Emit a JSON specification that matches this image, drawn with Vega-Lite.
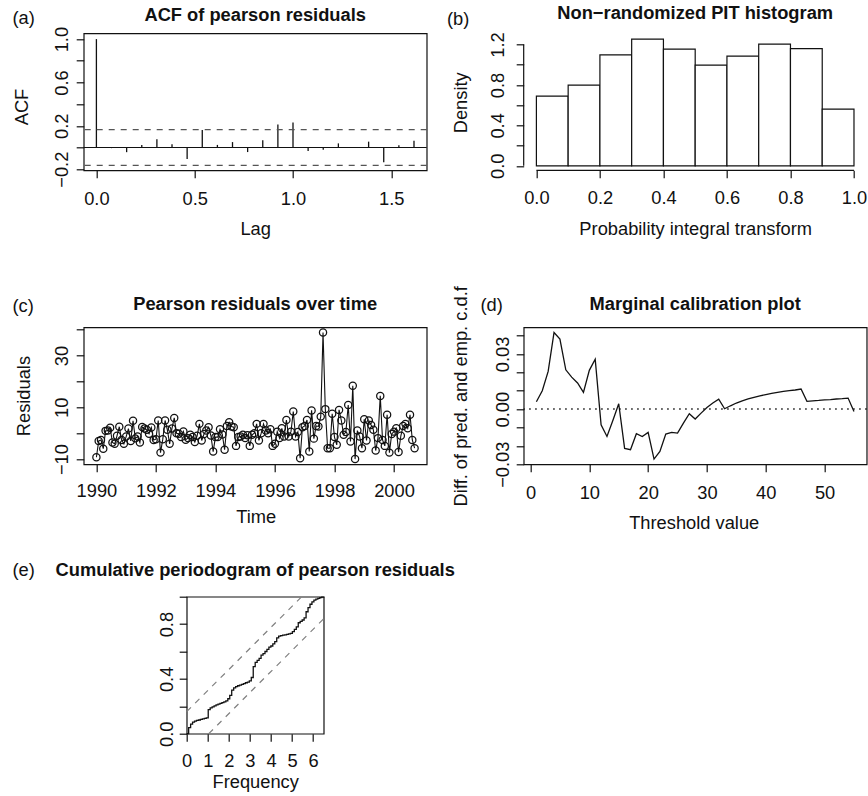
{
  "$schema": "https://vega.github.io/schema/vega-lite/v6.json",
  "background": "white",
  "padding": {"left": 11.7, "top": 3.3, "right": 0, "bottom": 0},
  "config": {
    "font": "Liberation Sans",
    "view": {"stroke": "#111", "strokeWidth": 1.2},
    "axis": {"domain": false, "grid": false, "ticks": true, "tickSize": 7.5, "tickWidth": 1.2, "tickColor": "#111",
      "labelFontSize": 18.3, "titleFontSize": 18.3, "titleFontWeight": "normal", "labelColor": "#111", "titleColor": "#111",
      "labelFlush": false, "labelOverlap": false, "labelBound": false},
    "text": {"color": "#111"}
  },
  "datasets": {
    "acf": [
      {"lag": 0, "acf": 1.0}, {"lag": 0.0769, "acf": -0.006}, {"lag": 0.1538, "acf": -0.043}, {"lag": 0.2308, "acf": 0.022},
      {"lag": 0.3077, "acf": 0.075}, {"lag": 0.3846, "acf": 0.03}, {"lag": 0.4615, "acf": -0.105}, {"lag": 0.5385, "acf": 0.162},
      {"lag": 0.6154, "acf": 0.024}, {"lag": 0.6923, "acf": 0.05}, {"lag": 0.7692, "acf": -0.042}, {"lag": 0.8462, "acf": 0.066},
      {"lag": 0.9231, "acf": 0.213}, {"lag": 1.0, "acf": 0.23}, {"lag": 1.0769, "acf": -0.032}, {"lag": 1.1538, "acf": -0.02},
      {"lag": 1.2308, "acf": 0.038}, {"lag": 1.3077, "acf": 0.003}, {"lag": 1.3846, "acf": 0.054}, {"lag": 1.4615, "acf": -0.136},
      {"lag": 1.5385, "acf": 0.02}, {"lag": 1.6154, "acf": 0.062}
    ],
    "pit": [
      {"lo": 0.0, "hi": 0.1, "density": 0.689}, {"lo": 0.1, "hi": 0.2, "density": 0.798}, {"lo": 0.2, "hi": 0.3, "density": 1.098},
      {"lo": 0.3, "hi": 0.4, "density": 1.253}, {"lo": 0.4, "hi": 0.5, "density": 1.154}, {"lo": 0.5, "hi": 0.6, "density": 0.996},
      {"lo": 0.6, "hi": 0.7, "density": 1.085}, {"lo": 0.7, "hi": 0.8, "density": 1.203}, {"lo": 0.8, "hi": 0.9, "density": 1.16},
      {"lo": 0.9, "hi": 1.0, "density": 0.56}
    ],
    "resid": [
      {"t": 1990, "r": -9.3}, {"t": 1990.0769, "r": -3.0}, {"t": 1990.1538, "r": -2.6}, {"t": 1990.2308, "r": -6.0}, {"t": 1990.3077, "r": 0.9},
      {"t": 1990.3846, "r": 1.0}, {"t": 1990.4615, "r": 2.1}, {"t": 1990.5385, "r": -3.6}, {"t": 1990.6154, "r": -4.1}, {"t": 1990.6923, "r": -1.0},
      {"t": 1990.7692, "r": 2.5}, {"t": 1990.8462, "r": -2.6}, {"t": 1990.9231, "r": -4.1},
      {"t": 1991, "r": -1.3}, {"t": 1991.0769, "r": 1.8}, {"t": 1991.1538, "r": -3.0}, {"t": 1991.2308, "r": 4.8}, {"t": 1991.3077, "r": -2.0},
      {"t": 1991.3846, "r": -1.3}, {"t": 1991.4615, "r": -3.6}, {"t": 1991.5385, "r": 2.4}, {"t": 1991.6154, "r": 1.8}, {"t": 1991.6923, "r": 1.3},
      {"t": 1991.7692, "r": -0.2}, {"t": 1991.8462, "r": 2.2}, {"t": 1991.9231, "r": -2.6},
      {"t": 1992, "r": -2.3}, {"t": 1992.0769, "r": 4.9}, {"t": 1992.1538, "r": -7.5}, {"t": 1992.2308, "r": -2.3}, {"t": 1992.3077, "r": 4.9},
      {"t": 1992.3846, "r": 1.3}, {"t": 1992.4615, "r": -4.1}, {"t": 1992.5385, "r": 1.8}, {"t": 1992.6154, "r": 5.9}, {"t": 1992.6923, "r": 0.0},
      {"t": 1992.7692, "r": -0.2}, {"t": 1992.8462, "r": -1.5}, {"t": 1992.9231, "r": 0.7},
      {"t": 1993, "r": -2.5}, {"t": 1993.0769, "r": -1.9}, {"t": 1993.1538, "r": -0.6}, {"t": 1993.2308, "r": -1.5}, {"t": 1993.3077, "r": -3.4},
      {"t": 1993.3846, "r": -1.0}, {"t": 1993.4615, "r": 3.6}, {"t": 1993.5385, "r": -2.8}, {"t": 1993.6154, "r": -0.3}, {"t": 1993.6923, "r": 1.0},
      {"t": 1993.7692, "r": 2.3}, {"t": 1993.8462, "r": -0.9}, {"t": 1993.9231, "r": -7.1},
      {"t": 1994, "r": -1.5}, {"t": 1994.0769, "r": -1.5}, {"t": 1994.1538, "r": 1.5}, {"t": 1994.2308, "r": -0.5}, {"t": 1994.3077, "r": -6.4},
      {"t": 1994.3846, "r": 2.8}, {"t": 1994.4615, "r": 4.2}, {"t": 1994.5385, "r": 2.6}, {"t": 1994.6154, "r": 2.3}, {"t": 1994.6923, "r": -4.9},
      {"t": 1994.7692, "r": -1.5}, {"t": 1994.8462, "r": -1.3}, {"t": 1994.9231, "r": -0.6},
      {"t": 1995, "r": -1.9}, {"t": 1995.0769, "r": -0.8}, {"t": 1995.1538, "r": -4.9}, {"t": 1995.2308, "r": -0.6}, {"t": 1995.3077, "r": 0.0},
      {"t": 1995.3846, "r": 3.6}, {"t": 1995.4615, "r": -2.8}, {"t": 1995.5385, "r": 0.0}, {"t": 1995.6154, "r": 3.6}, {"t": 1995.6923, "r": 1.0},
      {"t": 1995.7692, "r": 0.0}, {"t": 1995.8462, "r": 1.5}, {"t": 1995.9231, "r": -4.9},
      {"t": 1996, "r": -4.1}, {"t": 1996.0769, "r": 0.6}, {"t": 1996.1538, "r": -1.9}, {"t": 1996.2308, "r": 1.9}, {"t": 1996.3077, "r": -1.3},
      {"t": 1996.3846, "r": 5.1}, {"t": 1996.4615, "r": -1.3}, {"t": 1996.5385, "r": 0.6}, {"t": 1996.6154, "r": 8.4}, {"t": 1996.6923, "r": -1.3},
      {"t": 1996.7692, "r": 0.5}, {"t": 1996.8462, "r": -9.7}, {"t": 1996.9231, "r": 2.3},
      {"t": 1997, "r": 2.8}, {"t": 1997.0769, "r": 5.1}, {"t": 1997.1538, "r": -7.1}, {"t": 1997.2308, "r": 8.8}, {"t": 1997.3077, "r": -2.1},
      {"t": 1997.3846, "r": 2.8}, {"t": 1997.4615, "r": 2.6}, {"t": 1997.5385, "r": 6.4}, {"t": 1997.6154, "r": 38.9}, {"t": 1997.6923, "r": 9.3},
      {"t": 1997.7692, "r": -5.8}, {"t": 1997.8462, "r": -5.8}, {"t": 1997.9231, "r": 7.5},
      {"t": 1998, "r": -1.5}, {"t": 1998.0769, "r": -4.5}, {"t": 1998.1538, "r": 9.0}, {"t": 1998.2308, "r": 4.9}, {"t": 1998.3077, "r": -0.6},
      {"t": 1998.3846, "r": 0.5}, {"t": 1998.4615, "r": 10.9}, {"t": 1998.5385, "r": -3.2}, {"t": 1998.6154, "r": 18.3}, {"t": 1998.6923, "r": -10.0},
      {"t": 1998.7692, "r": 1.0}, {"t": 1998.8462, "r": -1.3}, {"t": 1998.9231, "r": -5.8},
      {"t": 1999, "r": 5.4}, {"t": 1999.0769, "r": -2.8}, {"t": 1999.1538, "r": 4.9}, {"t": 1999.2308, "r": 3.2}, {"t": 1999.3077, "r": 1.3},
      {"t": 1999.3846, "r": -6.7}, {"t": 1999.4615, "r": -1.9}, {"t": 1999.5385, "r": 14.4}, {"t": 1999.6154, "r": -2.6}, {"t": 1999.6923, "r": -4.9},
      {"t": 1999.7692, "r": 7.1}, {"t": 1999.8462, "r": -7.5}, {"t": 1999.9231, "r": -0.3},
      {"t": 2000, "r": 0.6}, {"t": 2000.0769, "r": 1.9}, {"t": 2000.1538, "r": -7.3}, {"t": 2000.2308, "r": -1.0}, {"t": 2000.3077, "r": 2.8},
      {"t": 2000.3846, "r": 3.6}, {"t": 2000.4615, "r": 1.9}, {"t": 2000.5385, "r": 7.1}, {"t": 2000.6154, "r": -2.6}, {"t": 2000.6923, "r": -5.8}
    ],
    "calib": [
      {"u": 1, "d": 0.004}, {"u": 2, "d": 0.01}, {"u": 3, "d": 0.0205}, {"u": 4, "d": 0.0417}, {"u": 5, "d": 0.0381},
      {"u": 6, "d": 0.0214}, {"u": 7, "d": 0.0174}, {"u": 8, "d": 0.0142}, {"u": 9, "d": 0.0091}, {"u": 10, "d": 0.0211},
      {"u": 11, "d": 0.0272}, {"u": 12, "d": -0.0085}, {"u": 13, "d": -0.0149}, {"u": 14, "d": -0.0062}, {"u": 15, "d": 0.0029},
      {"u": 16, "d": -0.0214}, {"u": 17, "d": -0.0221}, {"u": 18, "d": -0.0134}, {"u": 19, "d": -0.0149}, {"u": 20, "d": -0.0127},
      {"u": 21, "d": -0.0272}, {"u": 22, "d": -0.023}, {"u": 23, "d": -0.0136}, {"u": 24, "d": -0.0127}, {"u": 25, "d": -0.0131},
      {"u": 26, "d": -0.0076}, {"u": 27, "d": -0.0025}, {"u": 28, "d": -0.0054}, {"u": 29, "d": -0.0022}, {"u": 30, "d": 0.0009},
      {"u": 31, "d": 0.0033}, {"u": 32, "d": 0.0054}, {"u": 33, "d": 0.0002}, {"u": 34, "d": 0.0018}, {"u": 35, "d": 0.0033},
      {"u": 36, "d": 0.0045}, {"u": 37, "d": 0.0055}, {"u": 38, "d": 0.0064}, {"u": 39, "d": 0.0072}, {"u": 40, "d": 0.0079},
      {"u": 41, "d": 0.0085}, {"u": 42, "d": 0.0091}, {"u": 43, "d": 0.0096}, {"u": 44, "d": 0.01}, {"u": 45, "d": 0.0104},
      {"u": 46, "d": 0.0109}, {"u": 47, "d": 0.0042}, {"u": 48, "d": 0.0045}, {"u": 49, "d": 0.0047}, {"u": 50, "d": 0.005},
      {"u": 51, "d": 0.0052}, {"u": 52, "d": 0.0055}, {"u": 53, "d": 0.0057}, {"u": 54, "d": 0.006}, {"u": 55, "d": -0.0013}
    ],
    "cpgram": [
      {"f": 0, "c": 0}, {"f": 0.0929, "c": 0.045}, {"f": 0.1857, "c": 0.07}, {"f": 0.2786, "c": 0.085}, {"f": 0.3714, "c": 0.092},
      {"f": 0.4643, "c": 0.097}, {"f": 0.5571, "c": 0.1}, {"f": 0.65, "c": 0.104}, {"f": 0.7429, "c": 0.108}, {"f": 0.8357, "c": 0.112},
      {"f": 0.9286, "c": 0.116}, {"f": 1.0214, "c": 0.175}, {"f": 1.1143, "c": 0.188}, {"f": 1.2071, "c": 0.196}, {"f": 1.3, "c": 0.203},
      {"f": 1.3929, "c": 0.21}, {"f": 1.4857, "c": 0.216}, {"f": 1.5786, "c": 0.222}, {"f": 1.6714, "c": 0.227}, {"f": 1.7643, "c": 0.232},
      {"f": 1.8571, "c": 0.24}, {"f": 1.95, "c": 0.255}, {"f": 2.0429, "c": 0.28}, {"f": 2.1357, "c": 0.318}, {"f": 2.2286, "c": 0.335},
      {"f": 2.3214, "c": 0.343}, {"f": 2.4143, "c": 0.35}, {"f": 2.5071, "c": 0.355}, {"f": 2.6, "c": 0.36}, {"f": 2.6929, "c": 0.366},
      {"f": 2.7857, "c": 0.372}, {"f": 2.8786, "c": 0.377}, {"f": 2.9714, "c": 0.385}, {"f": 3.0643, "c": 0.41}, {"f": 3.1571, "c": 0.49},
      {"f": 3.25, "c": 0.52}, {"f": 3.3429, "c": 0.535}, {"f": 3.4357, "c": 0.55}, {"f": 3.5286, "c": 0.573}, {"f": 3.6214, "c": 0.585},
      {"f": 3.7143, "c": 0.6}, {"f": 3.8071, "c": 0.615}, {"f": 3.9, "c": 0.632}, {"f": 3.9929, "c": 0.64}, {"f": 4.0857, "c": 0.655},
      {"f": 4.1786, "c": 0.672}, {"f": 4.2714, "c": 0.7}, {"f": 4.3643, "c": 0.712}, {"f": 4.4571, "c": 0.716}, {"f": 4.55, "c": 0.719},
      {"f": 4.6429, "c": 0.722}, {"f": 4.7357, "c": 0.725}, {"f": 4.8286, "c": 0.728}, {"f": 4.9214, "c": 0.732}, {"f": 5.0143, "c": 0.745},
      {"f": 5.1071, "c": 0.762}, {"f": 5.2, "c": 0.78}, {"f": 5.2929, "c": 0.81}, {"f": 5.3857, "c": 0.82}, {"f": 5.4786, "c": 0.83},
      {"f": 5.5714, "c": 0.845}, {"f": 5.6643, "c": 0.89}, {"f": 5.7571, "c": 0.92}, {"f": 5.85, "c": 0.945}, {"f": 5.9429, "c": 0.962},
      {"f": 6.0357, "c": 0.975}, {"f": 6.1286, "c": 0.982}, {"f": 6.2214, "c": 0.988}, {"f": 6.3143, "c": 0.993}, {"f": 6.4071, "c": 0.997},
      {"f": 6.5, "c": 1.0}
    ]
  },
  "spacing": 27.4,
  "vconcat": [
    {
      "columns": 2,
      "spacing": {"row": 157, "column": 97},
      "bounds": "flush",
      "concat": [
        {
          "width": 343, "height": 137,
          "resolve": {"axis": {"x": "independent", "y": "independent"}},
          "layer": [
            {
              "data": {"name": "acf"},
              "mark": {"type": "rule", "color": "#111", "strokeWidth": 1.3},
              "encoding": {
                "x": {"field": "lag", "type": "quantitative", "scale": {"domain": [-0.0646, 1.68], "nice": false, "zero": false},
                  "axis": {"values": [0, 0.5, 1, 1.5], "format": ".1f", "title": "Lag", "labelBaseline": "alphabetic", "labelAlign": "center", "labelAngle": 0,
                    "labelPadding": 26.3, "titleX": 171.5, "titleY": 64.5, "titleBaseline": "alphabetic", "titleAlign": "center"}},
                "y": {"field": "acf", "type": "quantitative", "scale": {"domain": [-0.2103, 1.0535], "nice": false, "zero": false},
                  "axis": {"values": [-0.2, 0, 0.2, 0.4, 0.6, 0.8, 1.0], "format": ".1f",
                    "labelExpr": "(round(datum.value*10)+2) % 4 == 0 ? datum.label : ''",
                    "title": "ACF", "labelAngle": 270, "labelAlign": "center", "labelBaseline": "alphabetic", "labelPadding": 8.2,
                    "titleAngle": 270, "titleX": -55.7, "titleY": 73.2, "titleBaseline": "alphabetic", "titleAlign": "center"}},
                "y2": {"datum": 0}
              }
            },
            {
              "data": {"values": [{}]},
              "mark": {"type": "rule", "color": "#111", "strokeWidth": 1.2},
              "encoding": {"y": {"datum": 0, "axis": null}}
            },
            {
              "data": {"values": [{}]},
              "mark": {"type": "rule", "color": "#555", "strokeWidth": 1.2, "strokeDash": [6, 6]},
              "encoding": {"y": {"datum": 0.1657, "axis": null}}
            },
            {
              "data": {"values": [{}]},
              "mark": {"type": "rule", "color": "#555", "strokeWidth": 1.2, "strokeDash": [6, 6]},
              "encoding": {"y": {"datum": -0.1657, "axis": null}}
            },
            {
              "data": {"values": [{}]},
              "mark": {"type": "text", "text": "(a)", "align": "left", "baseline": "alphabetic", "fontSize": 18.3},
              "encoding": {"x": {"datum": -0.4273, "axis": null}, "y": {"datum": 1.1365, "axis": null}}
            },
            {
              "data": {"values": [{}]},
              "mark": {"type": "text", "text": "ACF of pearson residuals", "align": "center", "baseline": "alphabetic", "fontSize": 18.3, "fontWeight": "bold"},
              "encoding": {"x": {"datum": 0.8077, "axis": null}, "y": {"datum": 1.1716, "axis": null}}
            }
          ]
        },
        {
          "width": 343, "height": 137,
          "view": {"stroke": null},
          "resolve": {"axis": {"x": "independent", "y": "independent"}},
          "layer": [
            {
              "data": {"name": "pit"},
              "mark": {"type": "rect", "fill": "white", "stroke": "#111", "strokeWidth": 1.2},
              "encoding": {
                "x": {"field": "lo", "type": "quantitative", "scale": {"domain": [-0.04, 1.04], "nice": false, "zero": false},
                  "axis": {"values": [0, 0.2, 0.4, 0.6, 0.8, 1.0], "format": ".1f", "title": "Probability integral transform",
                    "labelBaseline": "alphabetic", "labelAlign": "center", "labelAngle": 0,
                    "labelPadding": 26, "titleX": 171.5, "titleY": 64.5, "titleBaseline": "alphabetic", "titleAlign": "center"}},
                "x2": {"field": "hi"},
                "y": {"field": "density", "type": "quantitative", "scale": {"domain": [-0.0445, 1.3106], "nice": false, "zero": false},
                  "axis": {"values": [0, 0.2, 0.4, 0.6, 0.8, 1.0, 1.2], "format": ".1f",
                    "labelExpr": "round(datum.value*10) % 4 == 0 ? datum.label : ''",
                    "title": "Density", "labelAngle": 270, "labelAlign": "center", "labelBaseline": "alphabetic", "labelPadding": 12.5,
                    "titleAngle": 270, "titleX": -57.5, "titleY": 69, "titleBaseline": "alphabetic", "titleAlign": "center"}},
                "y2": {"datum": 0}
              }
            },
            {
              "data": {"values": [{}]},
              "mark": {"type": "rule", "color": "#111", "strokeWidth": 1.2},
              "encoding": {"x": {"datum": -0.04, "axis": null}, "y": {"datum": 0, "axis": null}, "y2": {"datum": 1.2}}
            },
            {
              "data": {"values": [{}]},
              "mark": {"type": "rule", "color": "#111", "strokeWidth": 1.2},
              "encoding": {"y": {"datum": -0.0445, "axis": null}, "x": {"datum": 0, "axis": null}, "x2": {"datum": 1}}
            },
            {
              "data": {"values": [{}]},
              "mark": {"type": "text", "text": "(b)", "align": "left", "baseline": "alphabetic", "fontSize": 18.3},
              "encoding": {"x": {"datum": -0.2815, "axis": null}, "y": {"datum": 1.3976, "axis": null}}
            },
            {
              "data": {"values": [{}]},
              "mark": {"type": "text", "text": "Non−randomized PIT histogram", "align": "center", "baseline": "alphabetic", "fontSize": 18.3, "fontWeight": "bold"},
              "encoding": {"x": {"datum": 0.5, "axis": null}, "y": {"datum": 1.451, "axis": null}}
            }
          ]
        },
        {
          "width": 343, "height": 137,
          "resolve": {"axis": {"x": "independent", "y": "independent"}},
          "layer": [
            {
              "data": {"name": "resid"},
              "mark": {"type": "line", "color": "#111", "strokeWidth": 1.1},
              "encoding": {
                "x": {"field": "t", "type": "quantitative", "scale": {"domain": [1989.573, 2001.099], "nice": false, "zero": false},
                  "axis": {"values": [1990, 1992, 1994, 1996, 1998, 2000], "format": "d", "title": "Time",
                    "labelBaseline": "alphabetic", "labelAlign": "center", "labelAngle": 0,
                    "labelPadding": 24.5, "titleX": 172, "titleY": 58.2, "titleBaseline": "alphabetic", "titleAlign": "center"}},
                "y": {"field": "r", "type": "quantitative", "scale": {"domain": [-12.01, 40.89], "nice": false, "zero": false},
                  "axis": {"values": [-10, 0, 10, 20, 30, 40], "format": "d",
                    "labelExpr": "(datum.value + 10) % 20 == 0 ? datum.label : ''",
                    "title": "Residuals", "labelAngle": 270, "labelAlign": "center", "labelBaseline": "alphabetic", "labelPadding": 8.2,
                    "titleAngle": 270, "titleX": -54, "titleY": 68.3, "titleBaseline": "alphabetic", "titleAlign": "center"}}
              }
            },
            {
              "data": {"name": "resid"},
              "mark": {"type": "point", "shape": "circle", "filled": false, "size": 52, "color": "#111", "strokeWidth": 1.25, "opacity": 1},
              "encoding": {
                "x": {"field": "t", "type": "quantitative", "axis": null},
                "y": {"field": "r", "type": "quantitative", "axis": null}
              }
            },
            {
              "data": {"values": [{}]},
              "mark": {"type": "text", "text": "(c)", "align": "left", "baseline": "alphabetic", "fontSize": 18.3},
              "encoding": {"x": {"datum": 1987.177, "axis": null}, "y": {"datum": 46.68, "axis": null}}
            },
            {
              "data": {"values": [{}]},
              "mark": {"type": "text", "text": "Pearson residuals over time", "align": "center", "baseline": "alphabetic", "fontSize": 18.3, "fontWeight": "bold"},
              "encoding": {"x": {"datum": 1995.336, "axis": null}, "y": {"datum": 47.64, "axis": null}}
            }
          ]
        },
        {
          "width": 343, "height": 137,
          "resolve": {"axis": {"x": "independent", "y": "independent"}},
          "layer": [
            {
              "data": {"name": "calib"},
              "mark": {"type": "line", "color": "#111", "strokeWidth": 1.3},
              "encoding": {
                "x": {"field": "u", "type": "quantitative", "scale": {"domain": [-1.16, 57.16], "nice": false, "zero": false},
                  "axis": {"values": [0, 10, 20, 30, 40, 50], "format": "d", "title": "Threshold value",
                    "labelBaseline": "alphabetic", "labelAlign": "center", "labelAngle": 0,
                    "labelPadding": 26.3, "titleX": 170, "titleY": 63.8, "titleBaseline": "alphabetic", "titleAlign": "center"}},
                "y": {"field": "d", "type": "quantitative", "scale": {"domain": [-0.03005, 0.04453], "nice": false, "zero": false},
                  "axis": {"values": [-0.03, -0.02, -0.01, 0, 0.01, 0.02, 0.03, 0.04], "format": ".2f",
                    "labelExpr": "(round(datum.value*100)+3) % 3 == 0 ? datum.label : ''",
                    "title": "Diff. of pred. and emp. c.d.f", "labelAngle": 270, "labelAlign": "center", "labelBaseline": "alphabetic", "labelPadding": 7.5,
                    "titleAngle": 270, "titleX": -56.9, "titleY": 68.5, "titleBaseline": "alphabetic", "titleAlign": "center"}}
              }
            },
            {
              "data": {"values": [{}]},
              "mark": {"type": "rule", "color": "#111", "strokeWidth": 1.5, "strokeDash": [1.5, 4.5]},
              "encoding": {"y": {"datum": 0, "axis": null}}
            },
            {
              "data": {"values": [{}]},
              "mark": {"type": "text", "text": "(d)", "align": "left", "baseline": "alphabetic", "fontSize": 18.3},
              "encoding": {"x": {"datum": -8.517, "axis": null}, "y": {"datum": 0.05351, "axis": null}}
            },
            {
              "data": {"values": [{}]},
              "mark": {"type": "text", "text": "Marginal calibration plot", "align": "center", "baseline": "alphabetic", "fontSize": 18.3, "fontWeight": "bold"},
              "encoding": {"x": {"datum": 28, "axis": null}, "y": {"datum": 0.05406, "axis": null}}
            }
          ]
        }
      ]
    },
    {
      "spacing": 0,
      "bounds": "flush",
      "hconcat": [
        {
          "width": 103, "height": 137,
          "view": {"stroke": null},
          "data": {"values": []},
          "mark": {"type": "point", "opacity": 0},
          "encoding": {}
        },
        {
          "width": 137, "height": 137,
          "resolve": {"axis": {"x": "independent", "y": "independent"}},
          "layer": [
            {
              "data": {"values": [{}]},
              "mark": {"type": "rule", "color": "#808080", "strokeWidth": 1.2, "strokeDash": [6, 6]},
              "encoding": {"x": {"datum": 0, "axis": null}, "y": {"datum": 0.161, "axis": null}, "x2": {"datum": 5.4535}, "y2": {"datum": 1}}
            },
            {
              "data": {"values": [{}]},
              "mark": {"type": "rule", "color": "#808080", "strokeWidth": 1.2, "strokeDash": [6, 6]},
              "encoding": {"x": {"datum": 1.0465, "axis": null}, "y": {"datum": 0, "axis": null}, "x2": {"datum": 6.5}, "y2": {"datum": 0.839}}
            },
            {
              "data": {"name": "cpgram"},
              "mark": {"type": "line", "color": "#111", "strokeWidth": 1.3, "interpolate": "step-after"},
              "encoding": {
                "x": {"field": "f", "type": "quantitative", "scale": {"domain": [0, 6.5], "nice": false, "zero": false},
                  "axis": {"values": [0, 1, 2, 3, 4, 5, 6], "format": "d", "title": "Frequency",
                    "labelBaseline": "alphabetic", "labelAlign": "center", "labelAngle": 0,
                    "labelPadding": 25, "titleX": 68.5, "titleY": 54, "titleBaseline": "alphabetic", "titleAlign": "center"}},
                "y": {"field": "c", "type": "quantitative", "scale": {"domain": [0, 1], "nice": false, "zero": false},
                  "axis": {"values": [0, 0.2, 0.4, 0.6, 0.8, 1.0], "format": ".1f",
                    "labelExpr": "round(datum.value*10) % 4 == 0 ? datum.label : ''",
                    "title": null, "labelAngle": 270, "labelAlign": "center", "labelBaseline": "alphabetic", "labelPadding": 6.2}}
              }
            },
            {
              "data": {"values": [{}]},
              "mark": {"type": "text", "text": "(e)", "align": "left", "baseline": "alphabetic", "fontSize": 18.3},
              "encoding": {"x": {"datum": -8.27, "axis": null}, "y": {"datum": 1.1496, "axis": null}}
            },
            {
              "data": {"values": [{}]},
              "mark": {"type": "text", "text": "Cumulative periodogram of pearson residuals", "align": "center", "baseline": "alphabetic", "fontSize": 18.3, "fontWeight": "bold"},
              "encoding": {"x": {"datum": 3.25, "axis": null}, "y": {"datum": 1.1496, "axis": null}}
            }
          ]
        }
      ]
    }
  ]
}
